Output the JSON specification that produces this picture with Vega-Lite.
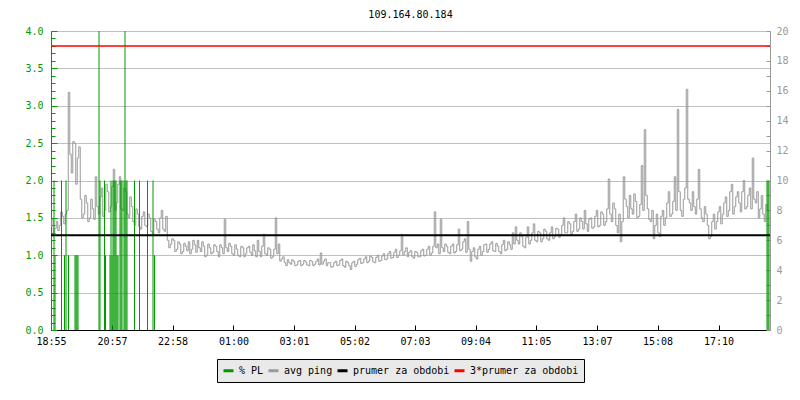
{
  "$schema": "https://vega.github.io/schema/vega-lite/v6.json",
  "width": 719,
  "height": 299,
  "autosize": "none",
  "padding": {"left": 51, "top": 31, "right": 30, "bottom": 70},
  "background": "white",
  "config": {"view": {"stroke": null}, "font": "DejaVu Sans Mono"},
  "title": {"text": "109.164.80.184", "font": "DejaVu Sans Mono", "fontSize": 10, "fontWeight": "normal", "color": "black", "offset": 6, "anchor": "middle", "frame": "group"},
  "datasets": {
    "ping": [
      {"t":0,"v":1.38},{"t":3,"v":1.48},{"t":6,"v":1.30},{"t":9,"v":1.36},{"t":12,"v":1.45},{"t":15,"v":1.33},{"t":18,"v":1.40},{"t":21,"v":1.58},{"t":24,"v":1.52},{"t":27,"v":1.42},
      {"t":30,"v":1.55},{"t":33,"v":1.60},{"t":36,"v":3.18},{"t":39,"v":2.35},{"t":42,"v":2.10},{"t":45,"v":2.52},{"t":48,"v":2.50},{"t":51,"v":1.95},{"t":54,"v":2.30},{"t":57,"v":2.45},
      {"t":60,"v":1.75},{"t":63,"v":1.50},{"t":66,"v":1.55},{"t":69,"v":1.80},{"t":72,"v":1.70},{"t":75,"v":1.45},{"t":78,"v":1.50},{"t":81,"v":1.75},{"t":84,"v":1.62},{"t":87,"v":1.48},
      {"t":90,"v":2.05},{"t":93,"v":1.65},{"t":96,"v":1.55},{"t":99,"v":1.78},{"t":102,"v":1.90},{"t":105,"v":1.52},{"t":108,"v":1.60},{"t":111,"v":1.95},{"t":114,"v":1.85},{"t":117,"v":1.58},
      {"t":120,"v":1.65},{"t":123,"v":1.92},{"t":126,"v":2.15},{"t":129,"v":1.60},{"t":132,"v":1.70},{"t":135,"v":1.95},{"t":138,"v":2.05},{"t":141,"v":1.62},{"t":144,"v":1.60},{"t":147,"v":1.90},
      {"t":150,"v":1.85},{"t":153,"v":1.55},{"t":156,"v":1.50},{"t":159,"v":1.78},{"t":162,"v":1.65},{"t":165,"v":1.45},{"t":168,"v":1.40},{"t":171,"v":1.62},{"t":174,"v":1.55},{"t":177,"v":1.38},
      {"t":180,"v":1.35},{"t":183,"v":1.52},{"t":186,"v":1.58},{"t":189,"v":1.40},{"t":192,"v":1.38},{"t":195,"v":1.55},{"t":198,"v":1.50},{"t":201,"v":1.32},{"t":204,"v":1.28},{"t":207,"v":1.48},
      {"t":210,"v":1.45},{"t":213,"v":1.35},{"t":216,"v":1.30},{"t":219,"v":1.50},{"t":222,"v":1.60},{"t":225,"v":1.35},{"t":228,"v":1.32},{"t":231,"v":1.52},{"t":234,"v":1.20},{"t":237,"v":1.10},
      {"t":240,"v":1.15},{"t":243,"v":1.22},{"t":246,"v":1.20},{"t":249,"v":1.05},{"t":252,"v":1.08},{"t":255,"v":1.18},{"t":258,"v":1.15},{"t":261,"v":1.02},{"t":264,"v":1.05},{"t":267,"v":1.16},
      {"t":270,"v":1.12},{"t":273,"v":1.06},{"t":276,"v":1.18},{"t":279,"v":1.02},{"t":282,"v":1.08},{"t":285,"v":1.20},{"t":288,"v":1.14},{"t":291,"v":1.04},{"t":294,"v":1.20},{"t":297,"v":1.10},
      {"t":300,"v":1.05},{"t":303,"v":1.18},{"t":306,"v":1.12},{"t":309,"v":0.98},{"t":312,"v":1.00},{"t":315,"v":1.15},{"t":318,"v":1.10},{"t":321,"v":1.02},{"t":324,"v":1.04},{"t":327,"v":1.14},
      {"t":330,"v":1.12},{"t":333,"v":1.05},{"t":336,"v":0.98},{"t":339,"v":1.14},{"t":342,"v":1.10},{"t":345,"v":1.02},{"t":348,"v":1.48},{"t":351,"v":1.10},{"t":354,"v":1.05},{"t":357,"v":1.16},
      {"t":360,"v":1.12},{"t":363,"v":1.02},{"t":366,"v":1.00},{"t":369,"v":1.14},{"t":372,"v":1.08},{"t":375,"v":1.00},{"t":378,"v":0.98},{"t":381,"v":1.12},{"t":384,"v":1.10},{"t":387,"v":0.98},
      {"t":390,"v":1.02},{"t":393,"v":1.10},{"t":396,"v":1.12},{"t":399,"v":1.04},{"t":402,"v":1.00},{"t":405,"v":1.14},{"t":408,"v":1.06},{"t":411,"v":0.98},{"t":414,"v":1.20},{"t":417,"v":1.05},
      {"t":420,"v":0.98},{"t":423,"v":1.12},{"t":426,"v":1.28},{"t":429,"v":1.02},{"t":432,"v":1.00},{"t":435,"v":1.10},{"t":438,"v":1.08},{"t":441,"v":0.96},{"t":444,"v":0.98},{"t":447,"v":1.08},
      {"t":450,"v":1.50},{"t":453,"v":1.02},{"t":456,"v":1.15},{"t":459,"v":0.92},{"t":462,"v":0.95},{"t":465,"v":0.98},{"t":468,"v":0.90},{"t":471,"v":0.86},{"t":474,"v":0.94},{"t":477,"v":0.90},
      {"t":480,"v":0.88},{"t":483,"v":0.94},{"t":486,"v":0.92},{"t":489,"v":0.86},{"t":492,"v":0.87},{"t":495,"v":0.92},{"t":498,"v":0.93},{"t":501,"v":0.86},{"t":504,"v":0.88},{"t":507,"v":0.93},
      {"t":510,"v":0.91},{"t":513,"v":0.87},{"t":516,"v":0.86},{"t":519,"v":0.93},{"t":522,"v":0.92},{"t":525,"v":0.86},{"t":528,"v":0.88},{"t":531,"v":0.92},{"t":534,"v":0.95},{"t":537,"v":0.87},
      {"t":540,"v":1.03},{"t":543,"v":0.88},{"t":546,"v":0.92},{"t":549,"v":0.95},{"t":552,"v":0.86},{"t":555,"v":0.90},{"t":558,"v":0.90},{"t":561,"v":0.84},{"t":564,"v":0.85},{"t":567,"v":0.90},
      {"t":570,"v":0.92},{"t":573,"v":0.86},{"t":576,"v":0.87},{"t":579,"v":0.93},{"t":582,"v":0.95},{"t":585,"v":0.86},{"t":588,"v":0.84},{"t":591,"v":0.92},{"t":594,"v":0.90},{"t":597,"v":0.86},
      {"t":600,"v":0.81},{"t":603,"v":0.90},{"t":606,"v":0.92},{"t":609,"v":0.85},{"t":612,"v":0.88},{"t":615,"v":0.94},{"t":618,"v":0.96},{"t":621,"v":0.89},{"t":624,"v":0.90},{"t":627,"v":0.95},
      {"t":630,"v":0.98},{"t":633,"v":0.90},{"t":636,"v":0.92},{"t":639,"v":0.99},{"t":642,"v":0.97},{"t":645,"v":0.91},{"t":648,"v":0.90},{"t":651,"v":0.97},{"t":654,"v":1.00},{"t":657,"v":0.92},
      {"t":660,"v":0.93},{"t":663,"v":0.99},{"t":666,"v":1.02},{"t":669,"v":0.94},{"t":672,"v":0.95},{"t":675,"v":1.02},{"t":678,"v":1.05},{"t":681,"v":0.96},{"t":684,"v":0.97},{"t":687,"v":1.04},
      {"t":690,"v":1.08},{"t":693,"v":0.97},{"t":696,"v":1.00},{"t":699,"v":1.06},{"t":702,"v":1.28},{"t":705,"v":1.00},{"t":708,"v":1.05},{"t":711,"v":1.10},{"t":714,"v":0.98},{"t":717,"v":1.04},
      {"t":720,"v":1.06},{"t":723,"v":0.98},{"t":726,"v":0.96},{"t":729,"v":1.05},{"t":732,"v":1.04},{"t":735,"v":0.98},{"t":738,"v":0.98},{"t":741,"v":1.06},{"t":744,"v":1.08},{"t":747,"v":0.99},
      {"t":750,"v":1.00},{"t":753,"v":1.08},{"t":756,"v":1.12},{"t":759,"v":1.00},{"t":762,"v":1.03},{"t":765,"v":1.12},{"t":768,"v":1.58},{"t":771,"v":1.10},{"t":774,"v":1.15},{"t":777,"v":1.02},
      {"t":780,"v":1.48},{"t":783,"v":1.10},{"t":786,"v":1.05},{"t":789,"v":1.15},{"t":792,"v":1.12},{"t":795,"v":1.04},{"t":798,"v":1.02},{"t":801,"v":1.12},{"t":804,"v":1.15},{"t":807,"v":1.03},
      {"t":810,"v":1.05},{"t":813,"v":1.14},{"t":816,"v":1.35},{"t":819,"v":1.06},{"t":822,"v":1.08},{"t":825,"v":1.18},{"t":828,"v":1.22},{"t":831,"v":1.04},{"t":834,"v":1.45},{"t":837,"v":1.08},
      {"t":840,"v":0.92},{"t":843,"v":1.05},{"t":846,"v":1.10},{"t":849,"v":0.98},{"t":852,"v":0.95},{"t":855,"v":1.08},{"t":858,"v":1.12},{"t":861,"v":1.00},{"t":864,"v":1.05},{"t":867,"v":1.14},
      {"t":870,"v":1.15},{"t":873,"v":1.04},{"t":876,"v":1.08},{"t":879,"v":1.15},{"t":882,"v":1.18},{"t":885,"v":1.06},{"t":888,"v":1.05},{"t":891,"v":1.16},{"t":894,"v":1.12},{"t":897,"v":1.05},
      {"t":900,"v":1.02},{"t":903,"v":1.14},{"t":906,"v":1.20},{"t":909,"v":1.06},{"t":912,"v":1.08},{"t":915,"v":1.18},{"t":918,"v":1.14},{"t":921,"v":1.08},{"t":924,"v":1.30},{"t":927,"v":1.15},
      {"t":930,"v":1.38},{"t":933,"v":1.20},{"t":936,"v":1.15},{"t":939,"v":1.30},{"t":942,"v":1.25},{"t":945,"v":1.12},{"t":948,"v":1.10},{"t":951,"v":1.24},{"t":954,"v":1.38},{"t":957,"v":1.15},
      {"t":960,"v":1.20},{"t":963,"v":1.30},{"t":966,"v":1.42},{"t":969,"v":1.20},{"t":972,"v":1.18},{"t":975,"v":1.32},{"t":978,"v":1.30},{"t":981,"v":1.18},{"t":984,"v":1.22},{"t":987,"v":1.35},
      {"t":990,"v":1.32},{"t":993,"v":1.22},{"t":996,"v":1.20},{"t":999,"v":1.30},{"t":1002,"v":1.38},{"t":1005,"v":1.22},{"t":1008,"v":1.25},{"t":1011,"v":1.36},{"t":1014,"v":1.35},{"t":1017,"v":1.24},
      {"t":1020,"v":1.28},{"t":1023,"v":1.40},{"t":1026,"v":1.50},{"t":1029,"v":1.30},{"t":1032,"v":1.30},{"t":1035,"v":1.45},{"t":1038,"v":1.42},{"t":1041,"v":1.28},{"t":1044,"v":1.32},{"t":1047,"v":1.45},
      {"t":1050,"v":1.55},{"t":1053,"v":1.32},{"t":1056,"v":1.35},{"t":1059,"v":1.50},{"t":1062,"v":1.45},{"t":1065,"v":1.35},{"t":1068,"v":1.60},{"t":1071,"v":1.42},{"t":1074,"v":1.32},{"t":1077,"v":1.48},
      {"t":1080,"v":1.50},{"t":1083,"v":1.36},{"t":1086,"v":1.38},{"t":1089,"v":1.52},{"t":1092,"v":1.60},{"t":1095,"v":1.38},{"t":1098,"v":1.40},{"t":1101,"v":1.58},{"t":1104,"v":1.55},{"t":1107,"v":1.40},
      {"t":1110,"v":1.45},{"t":1113,"v":1.62},{"t":1116,"v":2.02},{"t":1119,"v":1.55},{"t":1122,"v":1.45},{"t":1125,"v":1.70},{"t":1128,"v":1.62},{"t":1131,"v":1.40},{"t":1134,"v":1.30},{"t":1137,"v":1.55},
      {"t":1140,"v":1.18},{"t":1143,"v":1.45},{"t":1146,"v":2.05},{"t":1149,"v":1.75},{"t":1152,"v":1.65},{"t":1155,"v":1.50},{"t":1158,"v":1.80},{"t":1161,"v":1.62},{"t":1164,"v":1.55},{"t":1167,"v":1.82},
      {"t":1170,"v":1.72},{"t":1173,"v":1.50},{"t":1176,"v":1.52},{"t":1179,"v":1.68},{"t":1182,"v":2.20},{"t":1185,"v":1.60},{"t":1188,"v":2.68},{"t":1191,"v":1.80},{"t":1194,"v":1.62},{"t":1197,"v":1.48},
      {"t":1200,"v":1.45},{"t":1203,"v":1.60},{"t":1206,"v":1.22},{"t":1209,"v":1.40},{"t":1212,"v":1.55},{"t":1215,"v":1.30},{"t":1218,"v":1.25},{"t":1221,"v":1.52},{"t":1224,"v":1.60},{"t":1227,"v":1.40},
      {"t":1230,"v":1.50},{"t":1233,"v":1.70},{"t":1236,"v":1.85},{"t":1239,"v":1.52},{"t":1242,"v":1.55},{"t":1245,"v":1.72},{"t":1248,"v":2.05},{"t":1251,"v":1.60},{"t":1254,"v":2.95},{"t":1257,"v":1.85},
      {"t":1260,"v":1.60},{"t":1263,"v":1.52},{"t":1266,"v":1.75},{"t":1269,"v":1.90},{"t":1272,"v":3.22},{"t":1275,"v":1.75},{"t":1278,"v":1.70},{"t":1281,"v":1.60},{"t":1284,"v":1.85},{"t":1287,"v":1.65},
      {"t":1290,"v":1.55},{"t":1293,"v":1.75},{"t":1296,"v":2.15},{"t":1299,"v":1.62},{"t":1302,"v":1.50},{"t":1305,"v":1.45},{"t":1308,"v":1.65},{"t":1311,"v":1.55},{"t":1314,"v":1.40},{"t":1317,"v":1.22},
      {"t":1320,"v":1.25},{"t":1323,"v":1.45},{"t":1326,"v":1.55},{"t":1329,"v":1.35},{"t":1332,"v":1.45},{"t":1335,"v":1.58},{"t":1338,"v":1.65},{"t":1341,"v":1.42},{"t":1344,"v":1.55},{"t":1347,"v":1.70},
      {"t":1350,"v":1.78},{"t":1353,"v":1.52},{"t":1356,"v":1.60},{"t":1359,"v":1.85},{"t":1362,"v":1.95},{"t":1365,"v":1.55},{"t":1368,"v":1.65},{"t":1371,"v":1.78},{"t":1374,"v":1.85},{"t":1377,"v":1.70},
      {"t":1380,"v":1.58},{"t":1383,"v":1.85},{"t":1386,"v":2.00},{"t":1389,"v":1.62},{"t":1392,"v":1.65},{"t":1395,"v":1.80},{"t":1398,"v":1.90},{"t":1401,"v":1.62},{"t":1404,"v":2.30},{"t":1407,"v":1.75},
      {"t":1410,"v":1.70},{"t":1413,"v":1.85},{"t":1416,"v":1.50},{"t":1419,"v":1.62},{"t":1422,"v":1.80},{"t":1425,"v":1.55},{"t":1428,"v":1.45},{"t":1431,"v":1.68},{"t":1434,"v":1.60}
    ],
    "pl": [
      {"t":6,"pl":10},{"t":8,"pl":5},{"t":21,"pl":10},{"t":27,"pl":5},{"t":30,"pl":10},{"t":35,"pl":5},
      {"t":48,"pl":5},{"t":50,"pl":5},{"t":52,"pl":5},{"t":54,"pl":5},
      {"t":96,"pl":20},{"t":98,"pl":10},{"t":107,"pl":10},{"t":109,"pl":5},
      {"t":118,"pl":5},{"t":120,"pl":10},{"t":122,"pl":5},
      {"t":124,"pl":10},{"t":126,"pl":10},{"t":128,"pl":10},{"t":130,"pl":10},
      {"t":132,"pl":5},{"t":134,"pl":5},
      {"t":138,"pl":10},{"t":140,"pl":10},{"t":142,"pl":10},
      {"t":146,"pl":10},{"t":148,"pl":20},{"t":150,"pl":10},{"t":152,"pl":10},
      {"t":167,"pl":10},{"t":177,"pl":10},{"t":193,"pl":10},{"t":204,"pl":10},{"t":207,"pl":5},
      {"t":1432,"pl":10},{"t":1434,"pl":10},{"t":1436,"pl":10}
    ],
    "avg": [{"name":"prumer za obdobi","value":1.267}],
    "avg3": [{"name":"3*prumer za obdobi","value":3.80}]
  },
  "layer": [
    {
      "data": {"name": "ping"},
      "mark": {"type": "line", "strokeWidth": 1, "interpolate": "step", "clip": true},
      "encoding": {
        "x": {
          "field": "t", "type": "quantitative",
          "scale": {"domain": [0, 1438], "nice": false, "zero": false},
          "axis": {
            "title": null,
            "values": [0,122,243,365,486,607,728,849,970,1092,1213,1335],
            "labelExpr": "timeFormat(datetime(2020,0,1,18,55+datum.value),'%H:%M')",
            "domainColor": "black", "domainWidth": 1,
            "tickColor": "black", "tickSize": -5, "tickWidth": 1,
            "labelPadding": 11, "labelColor": "black", "labelFont": "DejaVu Sans Mono", "labelFontSize": 10,
            "labelFlush": false, "labelOverlap": false, "grid": false
          }
        },
        "y": {
          "field": "v", "type": "quantitative",
          "scale": {"domain": [0, 4], "nice": false, "zero": true},
          "axis": {
            "title": null,
            "values": [0,0.1,0.2,0.3,0.4,0.5,0.6,0.7,0.8,0.9,1,1.1,1.2,1.3,1.4,1.5,1.6,1.7,1.8,1.9,2,2.1,2.2,2.3,2.4,2.5,2.6,2.7,2.8,2.9,3,3.1,3.2,3.3,3.4,3.5,3.6,3.7,3.8,3.9,4],
            "labelExpr": "abs(datum.value*2-round(datum.value*2))<0.001 ? format(datum.value,'.1f') : ''",
            "domainColor": "#009900", "tickColor": "#009900", "labelColor": "#009900",
            "tickSize": {"condition": {"test": "abs(datum.value*2-round(datum.value*2))<0.001", "value": -6}, "value": -4},
            "labelPadding": 14, "labelFont": "DejaVu Sans Mono", "labelFontSize": 10, "labelOverlap": false,
            "grid": true, "gridColor": "#c0c0c0",
            "gridOpacity": {"condition": {"test": "abs(datum.value*2-round(datum.value*2))<0.001", "value": 1}, "value": 0}
          }
        },
        "color": {
          "datum": "avg ping", "type": "nominal",
          "scale": {"domain": ["% PL", "avg ping", "prumer za obdobi", "3*prumer za obdobi"], "range": ["#009900", "#999999", "#000000", "#ff0000"]},
          "legend": {
            "orient": "none", "legendX": 166, "legendY": 328, "direction": "horizontal", "columns": 4,
            "title": null, "fillColor": "#e9e9e9", "strokeColor": "black", "padding": 5,
            "symbolType": "stroke", "symbolSize": 100, "symbolStrokeWidth": 3,
            "labelFont": "DejaVu Sans Mono", "labelFontSize": 10, "labelColor": "black",
            "labelOffset": 4, "columnPadding": -2, "labelLimit": 0
          }
        }
      }
    },
    {
      "data": {"name": "pl"},
      "mark": {"type": "rule", "strokeWidth": 1},
      "encoding": {
        "x": {"field": "t", "type": "quantitative", "scale": {"domain": [0, 1438], "nice": false, "zero": false}},
        "y": {
          "field": "pl", "type": "quantitative",
          "scale": {"domain": [0, 20], "nice": false},
          "axis": {
            "orient": "right", "title": null,
            "values": [0,1,2,3,4,5,6,7,8,9,10,11,12,13,14,15,16,17,18,19,20],
            "labelExpr": "datum.value % 2 == 0 ? datum.label : ''",
            "domainColor": "#999999", "tickColor": "#999999", "labelColor": "#999999",
            "tickSize": -4, "labelPadding": 10, "labelFont": "DejaVu Sans Mono", "labelFontSize": 10,
            "labelOverlap": false, "grid": false
          }
        },
        "y2": {"datum": 0},
        "color": {"datum": "% PL", "type": "nominal"}
      }
    },
    {
      "data": {"name": "avg"},
      "mark": {"type": "rule", "strokeWidth": 2},
      "encoding": {
        "y": {"field": "value", "type": "quantitative", "scale": {"domain": [0, 4], "nice": false}, "axis": null},
        "color": {"datum": "prumer za obdobi", "type": "nominal"}
      }
    },
    {
      "data": {"name": "avg3"},
      "mark": {"type": "rule", "strokeWidth": 1.5},
      "encoding": {
        "y": {"field": "value", "type": "quantitative", "scale": {"domain": [0, 4], "nice": false}, "axis": null},
        "color": {"datum": "3*prumer za obdobi", "type": "nominal"}
      }
    }
  ],
  "resolve": {"scale": {"y": "independent"}, "axis": {"y": "independent"}}
}
